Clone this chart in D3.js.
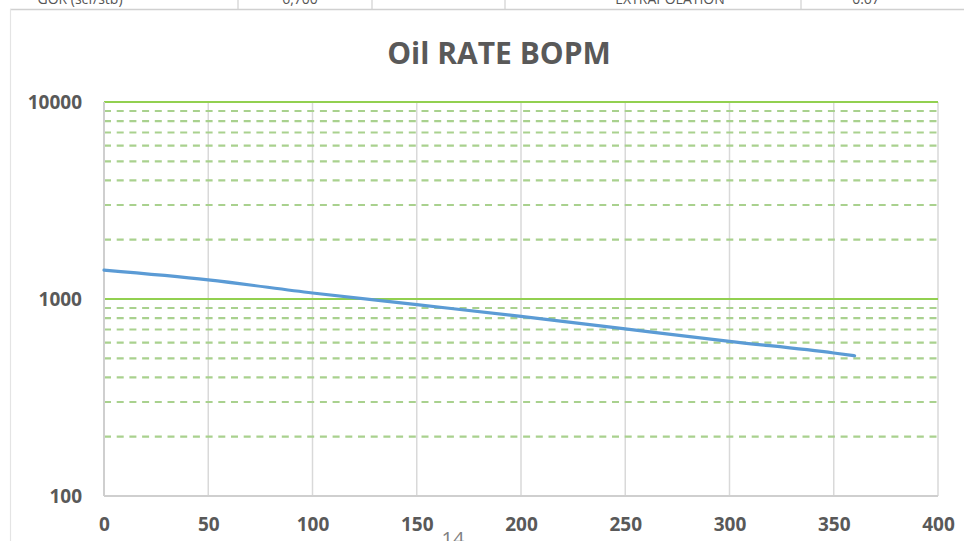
<!DOCTYPE html>
<html>
<head>
<meta charset="utf-8">
<script src="https://cdn.jsdelivr.net/npm/d3@7"></script>
<style>
  html, body { margin: 0; padding: 0; background: #fff; }
  svg { display: block; }
</style>
</head>
<body>
<svg id="chart" width="964" height="541"></svg>
<script>
// ---- data ----
const months = [0, 50, 100, 150, 200, 250, 300, 350, 360];
const oilRate = [1400, 1250, 1073, 936, 816, 705, 610, 532, 515];
const xTicks = [0, 50, 100, 150, 200, 250, 300, 350, 400];
const yMajorTicks = [100, 1000, 10000];
const yMinorTicks = [200, 300, 400, 500, 600, 700, 800, 900, 2000, 3000, 4000, 5000, 6000, 7000, 8000, 9000];
const titleText = "Oil RATE BOPM";
const tableCells = ["GOR (scf/stb)", "6,700", "", "EXTRAPOLATION", "0.67"];
const pageNumber = "14";

const svg = d3.select("#chart");
const x = d3.scaleLinear().domain([0, 400]).range([104, 938]);
const y = d3.scaleLog().domain([100, 10000]).range([496, 102]);

// top table strip remnant (cut off at the top edge, as in the reference)
const strip = svg.append("g");
strip.append("line").attr("x1", 10).attr("x2", 964).attr("y1", 9.5).attr("y2", 9.5)
  .attr("stroke", "#d0d0d0").attr("stroke-width", 1.5);
strip.append("line").attr("x1", 10.5).attr("x2", 10.5).attr("y1", 9).attr("y2", 541)
  .attr("stroke", "#e4e4e4").attr("stroke-width", 1.2);
[238, 372, 505, 801].forEach(d => {
  strip.append("line").attr("x1", d).attr("x2", d).attr("y1", 0).attr("y2", 9)
    .attr("stroke", "#d0d0d0").attr("stroke-width", 1.2);
});
const cellX = [80, 300, 440, 670, 866];
tableCells.forEach((t, i) => {
  strip.append("text").attr("x", cellX[i]).attr("y", 3.5).attr("text-anchor", "middle")
    .attr("font-family", "Open Sans, sans-serif").attr("font-size", 14).attr("fill", "#555")
    .text(t);
});

// vertical gridlines (gray)
svg.append("g").selectAll("line").data(xTicks).join("line")
  .attr("x1", d => x(d)).attr("x2", d => x(d))
  .attr("y1", y(10000)).attr("y2", y(100))
  .attr("stroke", "#d9d9d9").attr("stroke-width", 1.5);

// minor horizontal (dashed green)
svg.append("g").selectAll("line").data(yMinorTicks).join("line")
  .attr("x1", x(0)).attr("x2", x(400))
  .attr("y1", d => y(d)).attr("y2", d => y(d))
  .attr("stroke", "#a9d18e").attr("stroke-width", 2.2)
  .attr("stroke-dasharray", "7,5.7");

// major horizontal (solid green), 100 is the gray axis
svg.append("g").selectAll("line").data(yMajorTicks.filter(d => d > 100)).join("line")
  .attr("x1", x(0)).attr("x2", x(400))
  .attr("y1", d => y(d)).attr("y2", d => y(d))
  .attr("stroke", "#92d050").attr("stroke-width", 2);

// axes lines
svg.append("line").attr("x1", x(0)).attr("x2", x(400)).attr("y1", y(100)).attr("y2", y(100))
  .attr("stroke", "#cfcfcf").attr("stroke-width", 2);
svg.append("line").attr("x1", x(0)).attr("x2", x(0)).attr("y1", y(10000)).attr("y2", y(100))
  .attr("stroke", "#cfcfcf").attr("stroke-width", 2);

// axes via d3 axis generators (labels only)
const yAxis = d3.axisLeft(y).tickValues(yMajorTicks).tickFormat(d3.format("d")).tickSize(0).tickPadding(22);
const gy = svg.append("g").attr("transform", `translate(${x(0)},0)`).call(yAxis);
gy.select(".domain").remove();
gy.selectAll("text").attr("font-family", "Open Sans, sans-serif").attr("font-weight", "bold")
  .attr("font-size", 19).attr("fill", "#595959");

const xAxis = d3.axisBottom(x).tickValues(xTicks).tickFormat(d3.format("d")).tickSize(0).tickPadding(22);
const gx = svg.append("g").attr("transform", `translate(0,${y(100)})`).call(xAxis);
gx.select(".domain").remove();
gx.selectAll("text").attr("font-family", "Open Sans, sans-serif").attr("font-weight", "bold")
  .attr("font-size", 19).attr("fill", "#595959");

// line
const line = d3.line().x((d, i) => x(months[i])).y(d => y(d)).curve(d3.curveMonotoneX);
svg.append("path").datum(oilRate).attr("d", line)
  .attr("fill", "none").attr("stroke", "#5b9bd5").attr("stroke-width", 3.2)
  .attr("stroke-linecap", "round");

// title
svg.append("text").attr("x", 499).attr("y", 64).attr("text-anchor", "middle")
  .attr("font-family", "Open Sans, sans-serif").attr("font-weight", "bold")
  .attr("font-size", 30).attr("fill", "#595959").text(titleText);

// page number
svg.append("text").attr("x", 453).attr("y", 546).attr("text-anchor", "middle")
  .attr("font-family", "Open Sans, sans-serif").attr("font-size", 20).attr("fill", "#7f7f7f")
  .text(pageNumber);
</script>
</body>
</html>
